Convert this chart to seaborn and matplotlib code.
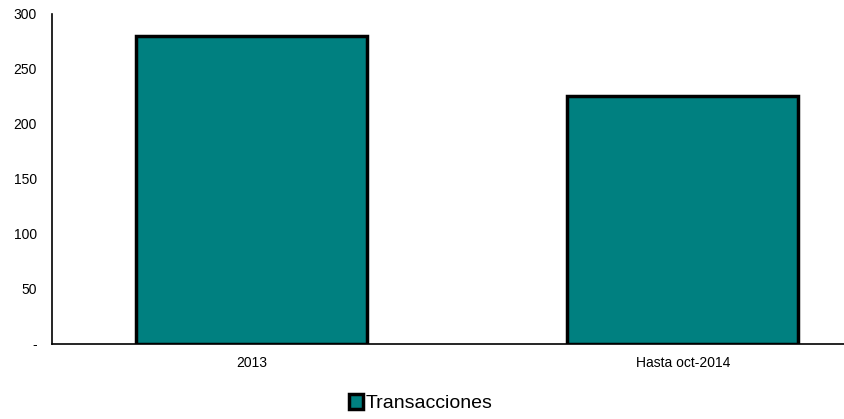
import pandas as pd
import numpy as np
import matplotlib
matplotlib.use("Agg")
import matplotlib.pyplot as plt
import seaborn as sns

sns.set_style("white")
plt.rcParams['font.family'] = ['Liberation Sans', 'DejaVu Sans']

periodos = ['2013', 'Hasta oct-2014']
transacciones = [280, 225]
serie = ['Transacciones', 'Transacciones']

df = pd.DataFrame({'Periodo': periodos, 'Valor': transacciones, 'Serie': serie})

fig = plt.figure(figsize=(8.45, 4.19), dpi=100)
ax = fig.add_axes([0.0615, 0.179, 0.9385, 0.7876])
sns.barplot(data=df, x='Periodo', y='Valor', hue='Serie', palette=['#008080'],
            saturation=1, edgecolor='black', linewidth=2.5, width=0.536, ax=ax)

ax.set_ylim(0, 300)
ax.set_xlim(-0.464, 1.376)
ax.set_yticks([0, 50, 100, 150, 200, 250, 300])
ax.set_yticklabels(['-', '50', '100', '150', '200', '250', '300'])
ax.set_xlabel('')
ax.set_ylabel('')
ax.tick_params(axis='y', length=0, pad=11, labelsize=10, labelcolor='black')
ax.tick_params(axis='x', length=0, pad=9, labelsize=10, labelcolor='black')
for s in ['top', 'right']:
    ax.spines[s].set_visible(False)
for s in ['left', 'bottom']:
    ax.spines[s].set_color('black')
    ax.spines[s].set_linewidth(1.2)

ax.legend(loc='center', bbox_to_anchor=(0.465, -0.18), frameon=False,
          fontsize=14, handlelength=0.75, handleheight=0.75, handletextpad=0.15,
          labelcolor='black')

fig.savefig('out.png', dpi=100)
